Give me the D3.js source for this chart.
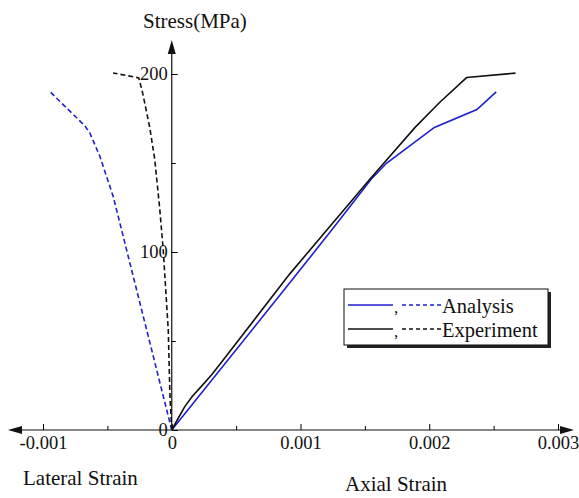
<!DOCTYPE html>
<html>
<head>
<meta charset="utf-8">
<script src="https://cdn.jsdelivr.net/npm/d3@7"></script>
<style>
  body { margin: 0; background: #fff; }
  svg text { font-family: "Liberation Serif", "Times New Roman", serif; fill: #111; }
</style>
</head>
<body>
<div id="chartContainer"></div>
<script>
// -- data
let axialStrainAnalysis = [0, 0.00092, 0.00125, 0.00155, 0.00167, 0.00204, 0.00237, 0.00252]
let axialStressAnalysis = [0, 83, 113, 141, 150, 170, 180, 190]

let axialStrainExperiment = [0, 0.00005, 0.0001, 0.00016, 0.00023, 0.00031, 0.00038, 0.00092, 0.00154, 0.00189, 0.00208, 0.00229, 0.00267]
let axialStressExperiment = [0, 6.6, 13, 19, 24.5, 31, 37.5, 88, 141, 170, 184, 198, 200.5]

let lateralStrainAnalysis = [0, -0.000454, -0.000557, -0.000635, -0.000674, -0.000953]
let lateralStressAnalysis = [0, 131, 153.5, 166.7, 170.8, 190.6]

let lateralStrainExperiment = [0, -0.000014, -0.000027, -0.000066, -0.000093, -0.000132, -0.000171, -0.000225, -0.000256, -0.000456]
let lateralStressExperiment = [0, 19, 56, 101, 124, 152, 170, 189, 197.8, 200.6]

let xMajorTicks = [-0.001, 0, 0.001, 0.002, 0.003]
let xMinorTicks = [-0.0005, 0.0005, 0.0015, 0.0025]
let yMajorTicks = [0, 100, 200]
let yMinorTicks = [50, 150]

let legendNames = ['Analysis', 'Experiment']
let legendColors = ['#1f1fcc', '#111111']

let width = 579
let height = 498
let blue = '#1f1fcc'
let black = '#111111'

let svg = d3.select('#chartContainer')
            .append('svg')
            .attr('width', width)
            .attr('height', height)

let xScale = d3.scaleLinear().domain([-0.001, 0.003]).range([43, 558])
let yScale = d3.scaleLinear().domain([0, 200]).range([430, 74])
let x0 = xScale(0)
let y0 = yScale(0)

// -- axis lines with arrow heads
svg.append('line')
   .attr('x1', 12).attr('x2', 568)
   .attr('y1', y0).attr('y2', y0)
   .attr('stroke', black).attr('stroke-width', 1.2)
svg.append('line')
   .attr('x1', x0).attr('x2', x0)
   .attr('y1', y0).attr('y2', 46)
   .attr('stroke', black).attr('stroke-width', 1.2)

let arrows = [
  [[8, y0], [22, y0 - 4], [22, y0 + 4]],
  [[574, y0], [560, y0 - 4], [560, y0 + 4]],
  [[x0, 40], [x0 - 4, 54], [x0 + 4, 54]]
]
svg.selectAll('.arrow')
   .data(arrows)
   .enter()
   .append('path')
   .attr('class', 'arrow')
   .attr('d', d => d3.line()(d) + 'Z')
   .attr('fill', black)

// -- X axis (ticks point up, labels below)
let xAxis = d3.axisBottom(xScale)
              .tickValues(xMajorTicks)
              .tickSizeInner(-6)
              .tickSizeOuter(0)
              .tickPadding(6)
              .tickFormat(d => d === 0 ? '0' : d.toString())
svg.append('g')
   .attr('transform', `translate(0, ${y0})`)
   .call(xAxis)
   .call(g => g.select('.domain').remove())
   .call(g => g.selectAll('text').attr('font-size', 18.5).attr('fill', '#111'))

svg.append('g')
   .attr('transform', `translate(0, ${y0})`)
   .call(d3.axisBottom(xScale).tickValues(xMinorTicks).tickSizeInner(-4).tickSizeOuter(0).tickFormat(''))
   .call(g => g.select('.domain').remove())

// -- Y axis (ticks point right, labels left)
let yAxis = d3.axisLeft(yScale)
              .tickValues(yMajorTicks)
              .tickSizeInner(-6)
              .tickSizeOuter(0)
              .tickPadding(4)
svg.append('g')
   .attr('transform', `translate(${x0}, 0)`)
   .call(yAxis)
   .call(g => g.select('.domain').remove())
   .call(g => g.selectAll('text').attr('font-size', 18.5).attr('fill', '#111'))

svg.append('g')
   .attr('transform', `translate(${x0}, 0)`)
   .call(d3.axisLeft(yScale).tickValues(yMinorTicks).tickSizeInner(-4).tickSizeOuter(0).tickFormat(''))
   .call(g => g.select('.domain').remove())

// -- axis titles
svg.append('text').attr('x', 143).attr('y', 28).attr('font-size', 21).text('Stress(MPa)')
svg.append('text').attr('x', 23).attr('y', 485).attr('font-size', 21).text('Lateral Strain')
svg.append('text').attr('x', 345).attr('y', 491).attr('font-size', 21).text('Axial Strain')

// -- curves
let line = d3.line().x(d => xScale(d[0])).y(d => yScale(d[1]))
let curves = [
  { strain: lateralStrainAnalysis, stress: lateralStressAnalysis, color: blue, dash: '5,3' },
  { strain: lateralStrainExperiment, stress: lateralStressExperiment, color: black, dash: '5,3' },
  { strain: axialStrainAnalysis, stress: axialStressAnalysis, color: blue, dash: null },
  { strain: axialStrainExperiment, stress: axialStressExperiment, color: black, dash: null }
]
svg.selectAll('.curve')
   .data(curves)
   .enter()
   .append('path')
   .attr('class', 'curve')
   .attr('d', c => line(c.strain.map((s, i) => [s, c.stress[i]])))
   .attr('fill', 'none')
   .attr('stroke', c => c.color)
   .attr('stroke-width', 1.6)
   .attr('stroke-dasharray', c => c.dash)

// -- legend
let legend = svg.append('g').attr('transform', 'translate(344, 289)')
legend.append('rect')
      .attr('x', 3).attr('y', 3)
      .attr('width', 204).attr('height', 56)
      .attr('fill', '#222')
legend.append('rect')
      .attr('width', 204).attr('height', 56)
      .attr('fill', '#fff')
      .attr('stroke', black).attr('stroke-width', 1)

let rows = legend.selectAll('.row')
                 .data(legendNames)
                 .enter()
                 .append('g')
                 .attr('transform', (d, i) => `translate(0, ${16 + i * 24})`)
rows.append('line')
    .attr('x1', 4).attr('x2', 49).attr('y1', 0).attr('y2', 0)
    .attr('stroke', (d, i) => legendColors[i]).attr('stroke-width', 1.5)
rows.append('text')
    .attr('x', 50).attr('y', 8).attr('font-size', 17).text(',')
rows.append('line')
    .attr('x1', 58).attr('x2', 98).attr('y1', 0).attr('y2', 0)
    .attr('stroke', (d, i) => legendColors[i]).attr('stroke-width', 1.5)
    .attr('stroke-dasharray', '4,3')
rows.append('text')
    .attr('x', 98).attr('y', 8).attr('font-size', 20.5).text(d => d)
</script>
</body>
</html>
